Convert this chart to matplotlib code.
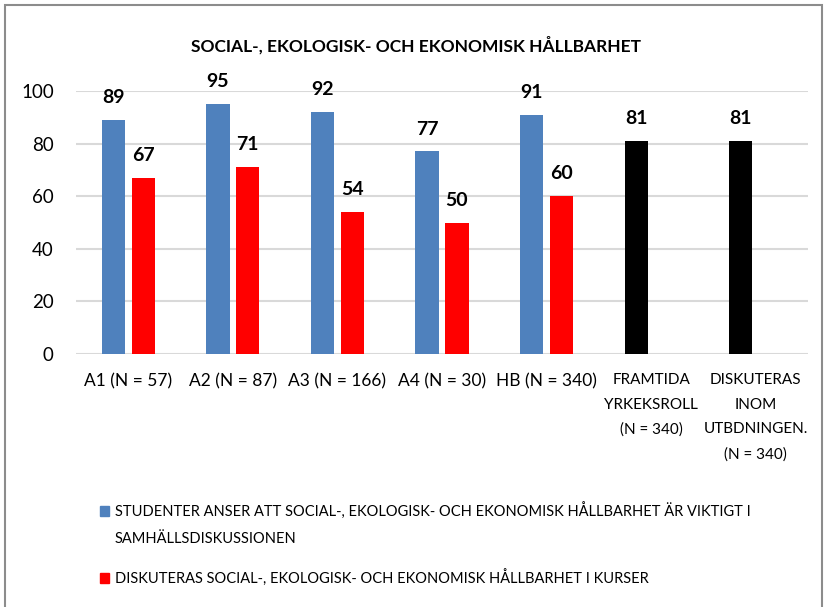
"""Social-, ekologisk- och ekonomisk hållbarhet: grouped bar chart."""

import matplotlib

matplotlib.use("Agg")
import matplotlib.pyplot as plt
import numpy as np
from matplotlib.patches import Rectangle

categories = [
    "A1 (N = 57)",
    "A2 (N = 87)",
    "A3 (N = 166)",
    "A4 (N = 30)",
    "HB (N = 340)",
    "FRAMTIDA\nYRKEKSROLL\n(N = 340)",
    "DISKUTERAS\nINOM\nUTBDNINGEN.\n(N = 340)",
]
important = [89, 95, 92, 77, 91, 81, 81]
in_courses = [67, 71, 54, 50, 60, np.nan, np.nan]
important_colors = ["#4f81bd"] * 5 + ["#000000"] * 2

title = "SOCIAL-, EKOLOGISK- OCH EKONOMISK HÅLLBARHET"
legend_labels = [
    "STUDENTER ANSER ATT SOCIAL-, EKOLOGISK- OCH EKONOMISK HÅLLBARHET ÄR VIKTIGT I\nSAMHÄLLSDISKUSSIONEN",
    "DISKUTERAS SOCIAL-, EKOLOGISK- OCH EKONOMISK HÅLLBARHET I KURSER",
]

plt.rcParams["font.family"] = ["Lato", "DejaVu Sans"]

W, H = 827, 607
fig = plt.figure(figsize=(W / 100, H / 100), dpi=100)
ax = fig.add_axes([76 / W, 1 - 354 / H, 732 / W, 263 / H])

x = np.arange(len(categories))
width = 0.223
offset = 0.143
blue = ax.bar(x - offset, important, width, color=important_colors, zorder=3)
red = ax.bar(x + offset, in_courses, width, color="#ff0000", zorder=3)

for bars, values in ((blue, important), (red, in_courses)):
    for bar, value in zip(bars, values):
        if np.isnan(value):
            continue
        ax.annotate(
            f"{value:.0f}",
            (bar.get_x() + bar.get_width() / 2, value),
            xytext=(0, 10),
            textcoords="offset points",
            ha="center",
            va="bottom",
            fontsize=14,
            fontweight="bold",
        )

ax.set_xlim(-0.5, len(categories) - 0.5)
ax.set_ylim(0, 100)
ax.set_yticks(range(0, 101, 20))
ax.set_xticks(x)
ax.set_xticklabels(categories, linespacing=1.95, va="top", multialignment="center")
for label in ax.get_xticklabels():
    label.set_fontsize(12.5 if "\n" not in label.get_text() else 11)
ax.tick_params(axis="y", labelsize=13.5, length=0, pad=16)
ax.tick_params(axis="x", length=0, pad=14)
ax.grid(axis="y", color="#d9d9d9", linewidth=1.5, zorder=0)
for spine in ax.spines.values():
    spine.set_visible(False)

fig.text(416 / W, 1 - 45 / H, title, ha="center", va="center",
         fontsize=12.5, fontweight="bold")

# legend drawn by hand so the wrapped label sits like the original
legend_rows = [(511, "#4f81bd", legend_labels[0]), (578, "#ff0000", legend_labels[1])]
for y_px, color, label in legend_rows:
    fig.patches.append(
        Rectangle((100 / W, 1 - (y_px + 5) / H), 9 / W, 10 / H,
                  transform=fig.transFigure, color=color)
    )
    fig.text(115 / W, 1 - (y_px - 8) / H, label, ha="left", va="top",
             fontsize=10.5, linespacing=2.1)

fig.patches.append(
    Rectangle((5 / W, -0.01), 817 / W, 1.01 - 5 / H, transform=fig.transFigure,
              fill=False, edgecolor="#8c8c8c", linewidth=1.5)
)

fig.savefig("out.png", dpi=100, facecolor="white")
